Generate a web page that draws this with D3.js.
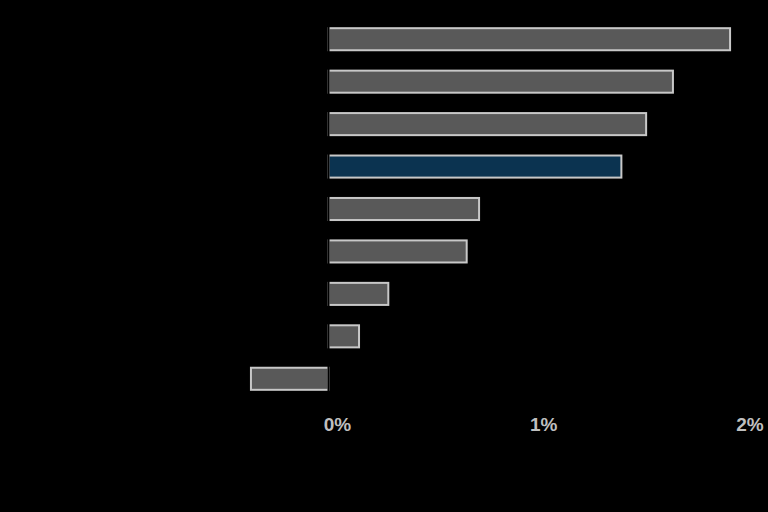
<!DOCTYPE html>
<html><head><meta charset="utf-8">
<script src="https://cdn.jsdelivr.net/npm/d3@7"></script>
<style>html,body{margin:0;padding:0;background:#000;}svg{display:block;}</style>
</head><body>
<svg id="chart" width="768" height="512"></svg>
<script>
const categories = ["A","B","C","D","E","F","G","H","I"];
const values = [1.947, 1.67, 1.54, 1.42, 0.73, 0.67, 0.29, 0.148, -0.376];
const highlight = ["D"];
const tickValues = [0, 1, 2];
const tickLabels = ["0%", "1%", "2%"];

const svg = d3.select("#chart");
const x = d3.scaleLinear().domain([0, 2]).range([328.5, 741]);
const y = d3.scaleBand().domain(categories).range([18, 400]).paddingInner(0.48).paddingOuter(0.24);

svg.append("g").selectAll("rect").data(categories).join("rect")
  .attr("x", (d,i) => x(Math.min(0, values[i])))
  .attr("width", (d,i) => Math.abs(x(values[i]) - x(0)))
  .attr("y", d => y(d))
  .attr("height", y.bandwidth())
  .attr("fill", d => highlight.includes(d) ? "#0b3350" : "#595959")
  .attr("stroke", "#c8c8c8")
  .attr("stroke-width", 2);

// zero axis line (black)
svg.append("line")
  .attr("x1", x(0)).attr("x2", x(0))
  .attr("y1", 17).attr("y2", 401)
  .attr("stroke", "#000").attr("stroke-width", 2);

const axis = d3.axisBottom(x).tickValues(tickValues).tickFormat((d,i) => tickLabels[i]).tickSize(0).tickPadding(0);
const g = svg.append("g").attr("transform", "translate(0,417)").call(axis);
g.select(".domain").remove();
g.selectAll("text")
  .attr("dx", 8.5)
  .attr("dy", "0.72em")
  .attr("fill", "#bfbfbf")
  .style("font-family", "Liberation Sans, Arial, sans-serif")
  .style("font-weight", "bold")
  .style("font-size", "19px");
</script>
</body></html>
